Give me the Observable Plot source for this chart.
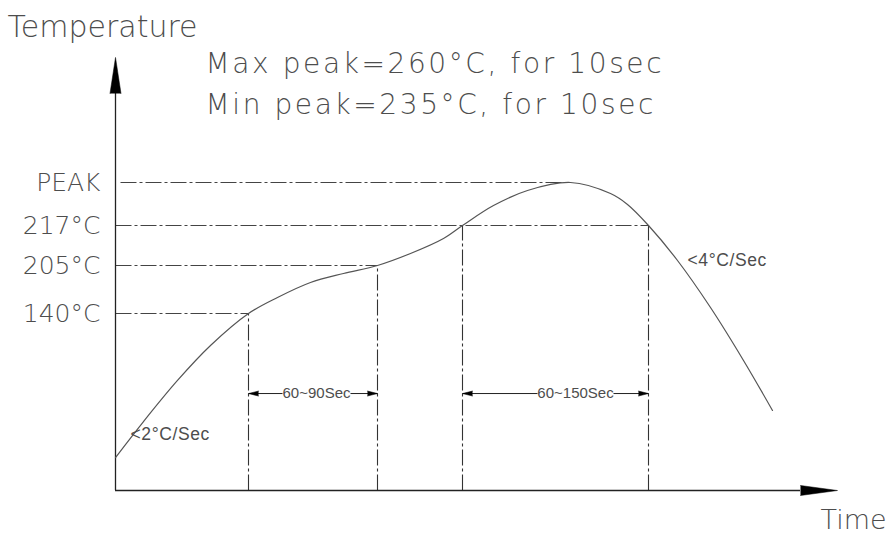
<!DOCTYPE html>
<html><head><meta charset="utf-8">
<script src="https://cdn.jsdelivr.net/npm/d3@7"></script>
<script src="https://cdn.jsdelivr.net/npm/@observablehq/plot@0.6"></script>
<style>
body{margin:0;background:#fff}
.wide text{letter-spacing:2.6px}
.mid text{letter-spacing:0.6px}
</style>
</head><body><div id="chart"></div>
<script>
// Reflow profile (schematic): time in seconds, temperature in °C
const curveTime = [0, 14, 31, 47.5, 66.5, 81, 97.5, 114, 131, 147.5, 164, 173.5, 189, 206, 227.5, 247.5, 256, 266.5, 281, 297.5, 314, 328.5];
const curveTemp = [46.4, 69.8, 96.5, 119.2, 140, 161.7, 182, 194.2, 205, 208.6, 213.1, 217, 230, 239.8, 245, 237.8, 230.7, 217, 206.5, 148.1, 109.5, 77];
const levelTemps = [140, 205, 217, 245];
const levelLabels = ["140°C", "205°C", "217°C", "PEAK"];
const levelEnds = [66.5, 131, 266.5, 227.5];
const markerTimes = [66.5, 131, 173.5, 266.5];
const markerTemps = [140, 205, 217, 217];
const zoneStart = [66.5, 173.5];
const zoneEnd = [131, 266.5];
const zoneLabels = ["60~90Sec", "60~150Sec"];
const peakNotes = ["Max peak=260°C, for 10sec", "Min peak=235°C, for 10sec"];
const slopeLabels = ["<2°C/Sec", "<4°C/Sec"];
const ambient = 25;

const profile = curveTime.map((t, i) => ({t, temp: curveTemp[i]}));
const levels = levelTemps.map((temp, i) => ({temp, label: levelLabels[i], end: levelEnds[i], start: i === 3 ? 2.5 : 0}));
const markers = markerTimes.map((t, i) => ({t, temp: markerTemps[i]}));
const zoneCenter = [100.5, 230];
const zoneHalf = [17, 19];
const zones = zoneLabels.map((label, i) => ({label, a: zoneStart[i], b: zoneEnd[i], c: zoneCenter[i], h: zoneHalf[i]}));

const font = "DejaVu Sans";
const grey = "#4d4d4d";
const dash = "16,3,3,3";
const zoneTemp = 88;

const plot = Plot.plot({
  width: 894, height: 535,
  marginLeft: 115, marginRight: 59, marginTop: 57, marginBottom: 45,
  style: {fontFamily: font, background: "white", color: "#222"},
  x: {domain: [0, 360], range: [115, 835], axis: null},
  y: {type: "linear", domain: [25, 140, 205, 217, 245], range: [490, 313, 265, 225, 182]},
  marks: [
    // guide lines
    Plot.link(levels, {x1: "start", x2: "end", y1: "temp", y2: "temp", stroke: "#444", strokeWidth: 1.1, strokeDasharray: dash}),
    Plot.link(markers, {x1: "t", x2: "t", y1: ambient, y2: "temp", stroke: "#333", strokeWidth: 1.1, strokeDasharray: dash}),
    // axes
    Plot.ruleX([0], {y1: ambient, y2: 303, stroke: "#222", strokeWidth: 1.3}),
    Plot.ruleY([ambient], {x1: 0, x2: 342.5, stroke: "#222", strokeWidth: 1.3}),
    Plot.vector([0], {x: 0, y: 303, rotate: 0, anchor: "start", shape: "spike", length: 36, r: 5.5, fill: "#000", stroke: "#000", strokeWidth: 0.5}),
    Plot.vector([0], {x: 342.5, y: ambient, rotate: 90, anchor: "start", shape: "spike", length: 37, r: 5, fill: "#000", stroke: "#000", strokeWidth: 0.5}),
    Plot.axisY(levelTemps, {tickSize: 0, tickPadding: 15, tickFormat: d => levelLabels[levelTemps.indexOf(d)], fontSize: 25, fontWeight: 200, fill: grey, label: null}),
    // profile curve
    Plot.line(profile, {x: "t", y: "temp", curve: "catmull-rom", stroke: "#555", strokeWidth: 1.2}),
    // zone dimension arrows
    Plot.link(zones, {x1: d => d.c - d.h, x2: "a", y1: zoneTemp, y2: zoneTemp, stroke: "#222", strokeWidth: 1}),
    Plot.link(zones, {x1: d => d.c + d.h, x2: "b", y1: zoneTemp, y2: zoneTemp, stroke: "#222", strokeWidth: 1}),
    Plot.vector(zones, {x: "a", y: zoneTemp, rotate: -90, anchor: "end", shape: "spike", length: 10, r: 2.5, fill: "#000", stroke: "#000", strokeWidth: 0.5}),
    Plot.vector(zones, {x: "b", y: zoneTemp, rotate: 90, anchor: "end", shape: "spike", length: 10, r: 2.5, fill: "#000", stroke: "#000", strokeWidth: 0.5}),
    Plot.text(zones, {x: "c", y: zoneTemp, text: "label", fontFamily: "Liberation Sans", fontSize: 15, fill: grey}),
    // slope notes
    Plot.text(slopeLabels, {x: [7.5, 286], y: [61.4, 206.5], text: d => d, textAnchor: "start", fontFamily: "Liberation Sans", fontSize: 17.5, fill: grey, className: "mid"}),
    // titles
    Plot.text(["Temperature"], {x: -54, y: 340, text: d => d, textAnchor: "start", lineAnchor: "bottom", fontSize: 30, fontWeight: 200, fill: grey}),
    Plot.text(peakNotes, {x: 45, y: [316, 289.3], text: d => d, textAnchor: "start", lineAnchor: "bottom", fontSize: 28, fontWeight: 200, fill: grey, className: "wide"}),
    Plot.text(["Time"], {x: 352.5, y: 0.3, text: d => d, textAnchor: "start", lineAnchor: "bottom", fontSize: 27, fontWeight: 200, fill: grey})
  ]
});
document.getElementById("chart").append(plot);
</script>
</body></html>
